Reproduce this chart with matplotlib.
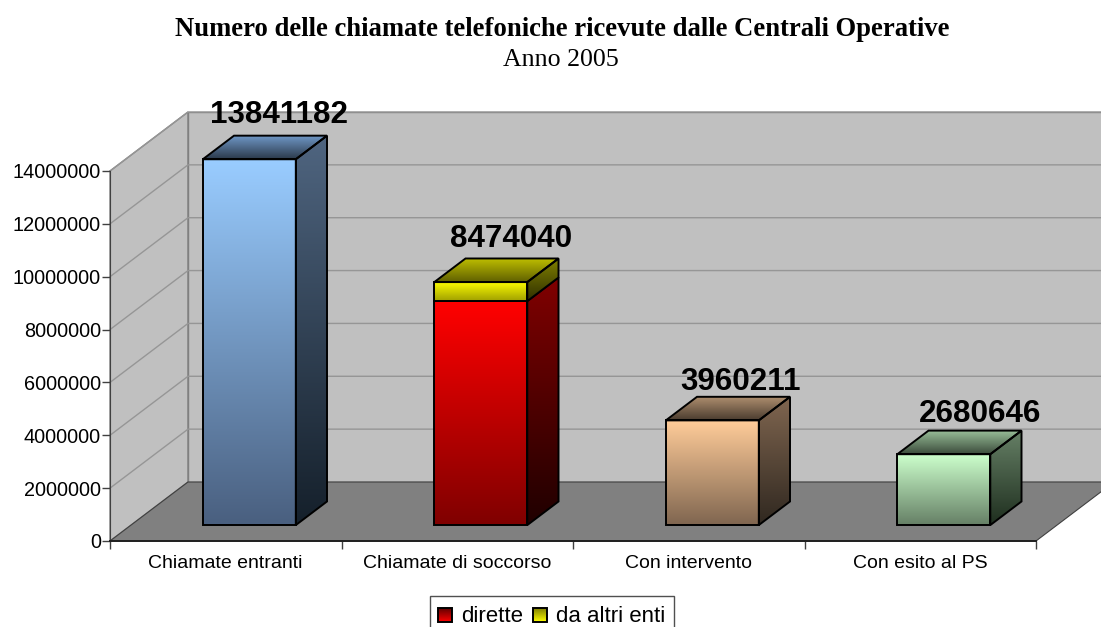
# Numero delle chiamate - finto 3D stile Excel

import numpy as np
import matplotlib
matplotlib.use("Agg")
import matplotlib.pyplot as plt
from matplotlib.colors import to_rgb
from matplotlib.patches import Polygon, Rectangle

categories = ["Chiamate entranti", "Chiamate di soccorso", "Con intervento", "Con esito al PS"]
base_values = [13841182, 8474040, 3960211, 2680646]
other_enti = [0, 720000, 0, 0]
yticks = [0, 2000000, 4000000, 6000000, 8000000, 10000000, 12000000, 14000000]
legend_labels = ["dirette", "da altri enti"]

W, H = 1101, 627
PX_X = 4 / 926          # data units per pixel, x
PX_Y = 14000000 / 370   # data units per pixel, y
WALL_DX, WALL_DY = 78 * PX_X, 59 * PX_Y
BAR_W = 93 * PX_X
BAR_SHIFT = 2.5 * PX_X
D_FRONT, D_BACK = 0.27, 0.67

# front, side, top gradients (top colour, bottom colour)
styles = [
    {"front": ("#99ccff", "#4a6080"), "side": ("#4f6580", "#15202b"), "top": ("#7099c8", "#2c3a4c")},
    {"front": ("#ff0000", "#800000"), "side": ("#800000", "#200000"), "top": ("#bfbf00", "#606000")},
    {"front": ("#ffcc99", "#806650"), "side": ("#806650", "#302820"), "top": ("#b09070", "#4c3d30")},
    {"front": ("#ccffcc", "#668066"), "side": ("#668066", "#1f2f1f"), "top": ("#99c099", "#3d4d3d")},
]
yellow = {"front": ("#ffff00", "#a0a000"), "side": ("#808000", "#303000")}
label_shift = [(32.5, 13), (33, 11), (31, 7), (39, 9)]

fig = plt.figure(figsize=(W / 100, H / 100), dpi=100, facecolor="white")
ax = fig.add_axes([110 / W, (H - 541) / H, 926 / W, 370 / H])
ax.set_facecolor("none")


def gradient(c1, c2):
    t = np.linspace(0, 1, 64)[:, None, None]
    return (1 - t) * np.array(to_rgb(c1))[None, None, :] + t * np.array(to_rgb(c2))[None, None, :]


def face(axis, pts, colors, z, edge="black"):
    xs = [p[0] for p in pts]
    ys = [p[1] for p in pts]
    poly = Polygon(pts, closed=True, fc="none", ec=edge, lw=1.4, zorder=z + 0.1, clip_on=False,
                   joinstyle="miter")
    axis.add_patch(poly)
    im = axis.imshow(gradient(*colors), extent=[min(xs), max(xs), min(ys), max(ys)], aspect="auto",
                     origin="upper", interpolation="bilinear", zorder=z)
    im.set_clip_path(poly)
    im.set_clip_box(fig.bbox)


def box(left, low, high, colors, z):
    x0 = left + D_FRONT * WALL_DX
    x1 = x0 + BAR_W
    y0 = low + D_FRONT * WALL_DY
    y1 = high + D_FRONT * WALL_DY
    dx = (D_BACK - D_FRONT) * WALL_DX
    dy = (D_BACK - D_FRONT) * WALL_DY
    face(ax, [(x0, y0), (x1, y0), (x1, y1), (x0, y1)], colors["front"], z)
    face(ax, [(x1, y0), (x1 + dx, y0 + dy), (x1 + dx, y1 + dy), (x1, y1)], colors["side"], z)
    if "top" in colors:
        face(ax, [(x0, y1), (x1, y1), (x1 + dx, y1 + dy), (x0 + dx, y1 + dy)], colors["top"], z)


# walls and floor
wall_col = "#c0c0c0"
ax.add_patch(Polygon([(0, 0), (0, 14000000), (WALL_DX, 14000000 + WALL_DY), (WALL_DX, WALL_DY)],
                     fc=wall_col, ec="#808080", lw=1, clip_on=False, zorder=1))
ax.add_patch(Rectangle((WALL_DX, WALL_DY), 4, 14000000, fc=wall_col, ec="#808080", lw=1,
                       clip_on=False, zorder=1))
ax.add_patch(Polygon([(0, 0), (4, 0), (4 + WALL_DX, WALL_DY), (WALL_DX, WALL_DY)],
                     fc="#808080", ec="#404040", lw=0.8, clip_on=False, zorder=2))
for v in yticks[1:]:
    ax.plot([0, WALL_DX, 4 + WALL_DX], [v, v + WALL_DY, v + WALL_DY], color="#969696", lw=1,
            clip_on=False, zorder=1.5)

# bars
for i, name in enumerate(categories):
    left = i + 0.5 - BAR_W / 2 + BAR_SHIFT
    st = dict(styles[i])
    if other_enti[i] > 0:
        box(left, 0, base_values[i], {"front": st["front"], "side": st["side"]}, 3)
        yel = dict(yellow)
        yel["top"] = st["top"]
        box(left, base_values[i], base_values[i] + other_enti[i], yel, 3.5)
    else:
        box(left, 0, base_values[i], st, 3)
    sx, sy = label_shift[i]
    top = base_values[i] + other_enti[i] + D_BACK * WALL_DY
    ax.text(i + 0.5 + D_FRONT * WALL_DX + sx * PX_X, top + sy * PX_Y, str(base_values[i]),
            ha="center", va="baseline", fontsize=22.6, fontweight="bold", family="Liberation Sans",
            color="black", zorder=6, clip_on=False)

ax.set_xlim(0, 4)
ax.set_ylim(0, 14000000)
ax.set_xticks(range(5))
ax.set_xticklabels([])
ax.set_xticks([i + 0.5 for i in range(4)], minor=True)
ax.set_xticklabels(categories, minor=True, fontsize=14, family="Liberation Sans")
ax.tick_params(axis="x", which="minor", length=0, pad=10)
ax.tick_params(axis="x", which="major", length=6, width=1, color="#404040")
ax.set_yticks(yticks)
ax.set_yticklabels([str(v) for v in yticks], fontsize=14.3, family="Liberation Sans")
ax.tick_params(axis="y", length=6, width=1, color="#404040", pad=0.5)
for s in ["top", "right"]:
    ax.spines[s].set_visible(False)
ax.spines["left"].set_color("#404040")
ax.spines["bottom"].set_color("#202020")
ax.spines["bottom"].set_linewidth(1.4)
ax.spines["left"].set_zorder(7)
ax.spines["bottom"].set_zorder(7)

# title
fig.text(562 / W, 1 - 36 / H, "Numero delle chiamate telefoniche ricevute dalle Centrali Operative",
         ha="center", va="baseline", fontsize=19.2, fontweight="bold", family="Liberation Serif")
fig.text(560.5 / W, 1 - 66 / H, "Anno 2005", ha="center", va="baseline", fontsize=18.6,
         family="Liberation Serif")

# legend, box runs off the bottom of the page as in the original
lax = fig.add_axes([0, 0, 1, 1])
lax.axis("off")
lax.add_patch(Rectangle((430, 596), 244, 40, fc="white", ec="#505050", lw=1))
face(lax, [(438, 608), (452, 608), (452, 622), (438, 622)], ("#ff0000", "#600000"), 3)
face(lax, [(533, 608), (547, 608), (547, 622), (533, 622)], ("#ffff00", "#808000"), 3)
lax.text(461, 622, legend_labels[0], fontsize=16, family="Liberation Sans", va="baseline")
lax.text(556, 622, legend_labels[1], fontsize=16, family="Liberation Sans", va="baseline")
lax.set_xlim(0, W)
lax.set_ylim(H, 0)

fig.savefig("out.png", dpi=100)
